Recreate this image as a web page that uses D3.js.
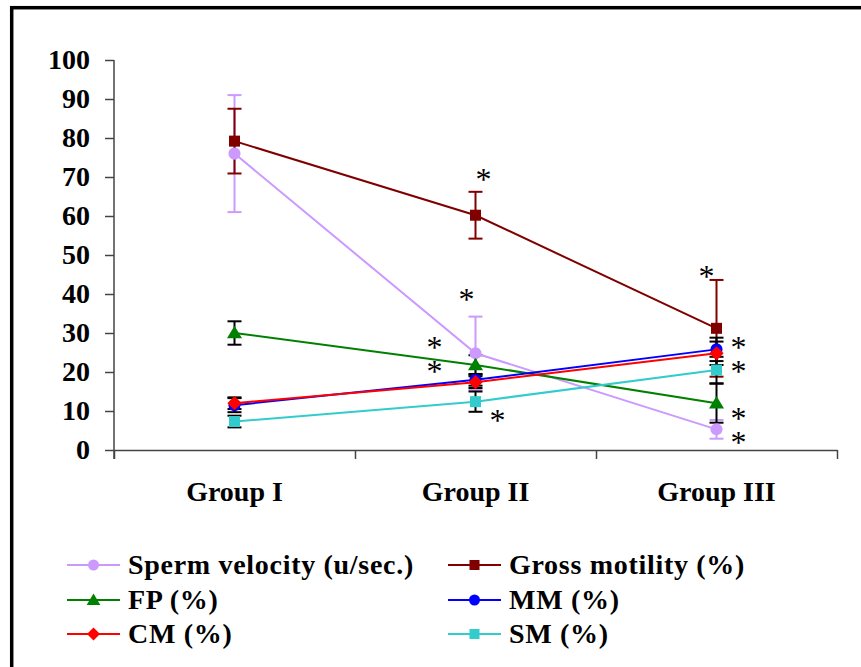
<!DOCTYPE html>
<html>
<head>
<meta charset="utf-8">
<script src="https://cdn.jsdelivr.net/npm/d3@7"></script>
<style>
  body { margin: 0; background: #fff; }
  svg { display: block; }
  text { font-family: "Liberation Serif", "Times New Roman", serif; }
</style>
</head>
<body>
<script>
// data
const groups = ["Group I", "Group II", "Group III"];
const yTicks = [0, 10, 20, 30, 40, 50, 60, 70, 80, 90, 100];

const seriesNames = ["Sperm velocity (u/sec.)", "Gross motility (%)", "FP (%)", "MM (%)", "CM (%)", "SM (%)"];
const spermVelocity = [76, 24.8, 5.3];
const spermVelocityErr = [15, 9.4, 2.4];
const grossMotility = [79.2, 60.2, 31.2];
const grossMotilityErr = [8.3, 6, 12.4];
const fp = [30, 21.8, 12];
const fpErr = [3, 2.5, 5];
const mm = [11.5, 18, 25.8];
const mmErr = [1.8, 1.5, 3];
const cm = [12, 17.4, 24.8];
const cmErr = [1.5, 1.5, 3];
const sm = [7.3, 12.4, 20.5];
const smErr = [1.5, 2.6, 3.4];

// significance stars: group index, value level, pixel shift from the point
const stars = [
  {g: 1, v: 70.5, dx: 8},
  {g: 1, v: 39.7, dx: -9},
  {g: 1, v: 27.4, dx: -41},
  {g: 1, v: 21.3, dx: -41},
  {g: 1, v: 8.7, dx: 22},
  {g: 2, v: 45.6, dx: -10},
  {g: 2, v: 27.4, dx: 22},
  {g: 2, v: 21.3, dx: 22},
  {g: 2, v: 9.2, dx: 22},
  {g: 2, v: 3.1, dx: 22}
];

const series = [
  {name: seriesNames[0], values: spermVelocity, err: spermVelocityErr, color: "#cc99ff", errColor: "#cc99ff", marker: "circle"},
  {name: seriesNames[1], values: grossMotility, err: grossMotilityErr, color: "#800000", errColor: "#800000", marker: "square"},
  {name: seriesNames[2], values: fp, err: fpErr, color: "#008000", errColor: "#000", marker: "triangle"},
  {name: seriesNames[3], values: mm, err: mmErr, color: "#0000ff", errColor: "#000", marker: "circle"},
  {name: seriesNames[4], values: cm, err: cmErr, color: "#ff0000", errColor: "#000", marker: "diamond"},
  {name: seriesNames[5], values: sm, err: smErr, color: "#33cccc", errColor: "#000", marker: "square"}
];

const W = 861, H = 667;

const svg = d3.select("body").append("svg")
  .attr("width", W)
  .attr("height", H);

// outer frame (runs off the right and bottom)
svg.append("rect")
  .attr("x", 11.7).attr("y", 7.7)
  .attr("width", 900).attr("height", 700)
  .attr("fill", "none")
  .attr("stroke", "#000")
  .attr("stroke-width", 3.5);

const yScale = d3.scaleLinear().domain([0, 100]).range([450, 60]);
const xScale = d3.scaleBand().domain(groups).range([114, 837]).padding(0);
const xEdge = d3.scaleLinear().domain([0, groups.length]).range([114, 837]);
const cx = (i) => xScale(groups[i]) + xScale.bandwidth() / 2;

// y axis
const yAxis = d3.axisLeft(yScale).tickValues(yTicks).tickSize(9).tickPadding(15).tickSizeOuter(0);
const gy = svg.append("g").attr("transform", "translate(114,0)").call(yAxis);
gy.select(".domain").attr("stroke", "#444").attr("stroke-width", 1.5).attr("d", "M0,60V459");
gy.selectAll(".tick line").attr("stroke", "#444").attr("stroke-width", 1.5);
gy.selectAll(".tick text")
  .attr("font-size", 28).attr("font-weight", "bold").attr("fill", "#000")
  .style("font-family", '"Liberation Serif", serif');

// x axis: ticks between categories
const xAxisTicks = d3.axisBottom(xEdge).ticks(groups.length).tickFormat("").tickSize(9).tickSizeOuter(0);
const gx = svg.append("g").attr("transform", "translate(0,450)").call(xAxisTicks);
gx.select(".domain").attr("stroke", "#444").attr("stroke-width", 1.5);
gx.selectAll(".tick line").attr("stroke", "#444").attr("stroke-width", 1.5);

const xAxisLabels = d3.axisBottom(xScale).tickSize(0).tickPadding(31);
const gxl = svg.append("g").attr("transform", "translate(0,450)").call(xAxisLabels);
gxl.select(".domain").remove();
gxl.selectAll(".tick text")
  .attr("font-size", 28).attr("font-weight", "bold").attr("fill", "#000")
  .style("font-family", '"Liberation Serif", serif');

// markers
function drawMarker(sel, type, color, size) {
  if (type === "circle") {
    sel.append("circle").attr("r", size * 0.55).attr("fill", color);
  } else if (type === "square") {
    sel.append("rect").attr("x", -size / 2).attr("y", -size / 2)
      .attr("width", size).attr("height", size).attr("fill", color);
  } else if (type === "triangle") {
    const s = size * 0.65;
    sel.append("path").attr("d", `M0,${-s}L${s * 1.05},${s * 0.75}L${-s * 1.05},${s * 0.75}Z`).attr("fill", color);
  } else if (type === "diamond") {
    const s = size * 0.65;
    sel.append("path").attr("d", `M0,${-s}L${s},0L0,${s}L${-s},0Z`).attr("fill", color);
  }
}

// error bars first
const capW = 7;
series.forEach((s) => {
  const g = svg.append("g").attr("stroke", s.errColor).attr("stroke-width", 2).attr("fill", "none");
  s.values.forEach((v, i) => {
    const x = cx(i), y0 = yScale(v - s.err[i]), y1 = yScale(v + s.err[i]);
    g.append("line").attr("x1", x).attr("x2", x).attr("y1", y0).attr("y2", y1);
    g.append("line").attr("x1", x - capW).attr("x2", x + capW).attr("y1", y0).attr("y2", y0);
    g.append("line").attr("x1", x - capW).attr("x2", x + capW).attr("y1", y1).attr("y2", y1);
  });
});

// lines
const line = d3.line().x((d, i) => cx(i)).y((d) => yScale(d));
series.forEach((s) => {
  svg.append("path").datum(s.values)
    .attr("d", line)
    .attr("fill", "none")
    .attr("stroke", s.color)
    .attr("stroke-width", 2);
});

// points
series.forEach((s) => {
  s.values.forEach((v, i) => {
    const g = svg.append("g").attr("transform", `translate(${cx(i)},${yScale(v)})`);
    drawMarker(g, s.marker, s.color, 11);
  });
});

// stars
svg.append("g").selectAll("text")
  .data(stars)
  .enter()
  .append("text")
  .attr("x", (d) => cx(d.g) + d.dx)
  .attr("y", (d) => yScale(d.v) + 15)
  .attr("text-anchor", "middle")
  .attr("font-size", 32)
  .attr("fill", "#000")
  .text("*");

// legend
const legX = [67, 448];
const legY = [565, 600, 634];
series.forEach((s, i) => {
  const x = legX[i % 2], y = legY[Math.floor(i / 2)];
  const g = svg.append("g").attr("transform", `translate(${x},${y})`);
  g.append("line").attr("x1", 0).attr("x2", 53).attr("y1", 0).attr("y2", 0)
    .attr("stroke", s.color).attr("stroke-width", 2);
  const m = g.append("g").attr("transform", "translate(26.5,0)");
  drawMarker(m, s.marker, s.color, 10);
  g.append("text")
    .attr("x", 61).attr("y", 9)
    .attr("font-size", 28).attr("font-weight", "bold")
    .attr("letter-spacing", 0.7)
    .attr("fill", "#000")
    .text(s.name);
});
</script>
</body>
</html>
